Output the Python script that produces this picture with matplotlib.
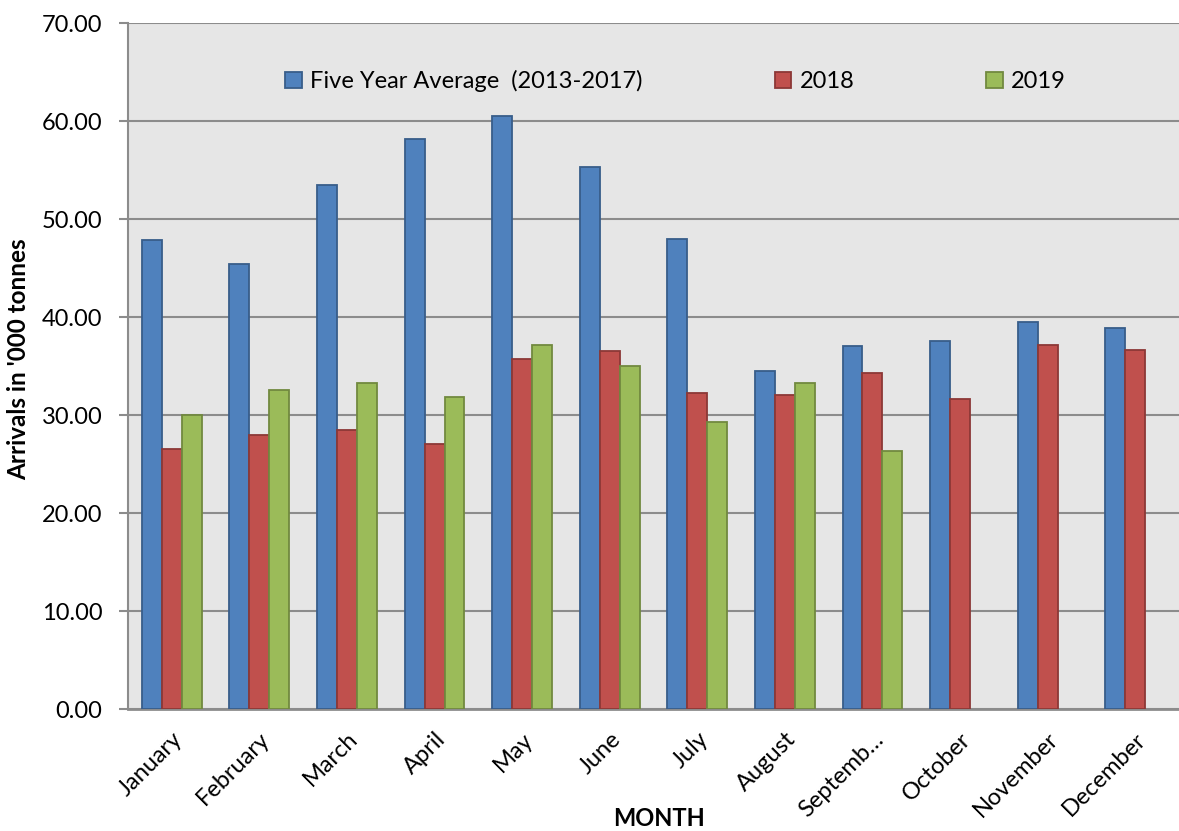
import numpy as np
import matplotlib
matplotlib.use("Agg")
import matplotlib.pyplot as plt
from matplotlib.ticker import FormatStrFormatter

plt.rcParams['font.family'] = ['Lato', 'DejaVu Sans']

months = ["January", "February", "March", "April", "May", "June", "July",
          "August", "Septemb\u2026", "October", "November", "December"]
five_year = [47.9, 45.4, 53.5, 58.2, 60.5, 55.3, 48.0, 34.5, 37.0, 37.6, 39.5, 38.9]
y2018 = [26.5, 28.0, 28.5, 27.0, 35.7, 36.5, 32.2, 32.0, 34.3, 31.6, 37.1, 36.6]
y2019 = [30.0, 32.6, 33.3, 31.8, 37.1, 35.0, 29.3, 33.3, 26.3]

series = [
    ("Five Year Average  (2013-2017)", five_year, "#4f81bd", "#385d8a"),
    ("2018", y2018, "#c0504d", "#8c3836"),
    ("2019", y2019, "#9bbb59", "#71893f"),
]

fig = plt.figure(figsize=(11.79, 8.31), dpi=100)
ax = fig.add_axes([128 / 1179, 1 - 709 / 831, 1051 / 1179, 686 / 831])
ax.set_facecolor("#e6e6e6")

w = 0.228
for i, (name, vals, fc, ec) in enumerate(series):
    x = np.arange(len(vals)) + (i - 1) * w
    ax.bar(x, vals, width=w, color=fc, edgecolor=ec, linewidth=1.3,
           label=name, zorder=3)

ax.set_xlim(-0.5, 11.5)
ax.set_ylim(0, 70)
ax.set_yticks(np.arange(0, 71, 10))
ax.yaxis.set_major_formatter(FormatStrFormatter("%.2f"))
ax.grid(axis="y", color="#8c8c8c", linewidth=1.5, zorder=0)
ax.set_axisbelow(True)

for s in ["top", "right"]:
    ax.spines[s].set_visible(False)
ax.spines["left"].set_color("#8c8c8c")
ax.spines["left"].set_linewidth(1.5)
ax.spines["bottom"].set_color("#8c8c8c")
ax.spines["bottom"].set_linewidth(2)

ax.tick_params(axis="y", length=6.5, width=1.5, color="#8c8c8c",
               labelsize=17, pad=12)
ax.tick_params(axis="x", length=0, labelsize=17, pad=14)
ax.set_xticks(np.arange(12))
ax.set_xticklabels(months, rotation=45, ha="right", rotation_mode="anchor")

ax.set_ylabel("Arrivals in '000 tonnes", fontsize=17.5, fontweight="bold")
ax.yaxis.set_label_coords(-0.093, 0.51)
ax.set_xlabel("MONTH", fontsize=17, fontweight="bold")
ax.xaxis.set_label_coords(0.505, -0.143)

ax.legend(loc="center", bbox_to_anchor=(0.521, 0.915), ncol=3,
          frameon=False, fontsize=17, columnspacing=5.6,
          handlelength=0.7, handleheight=0.7, handletextpad=0.35)

fig.savefig("out.png", dpi=100)
